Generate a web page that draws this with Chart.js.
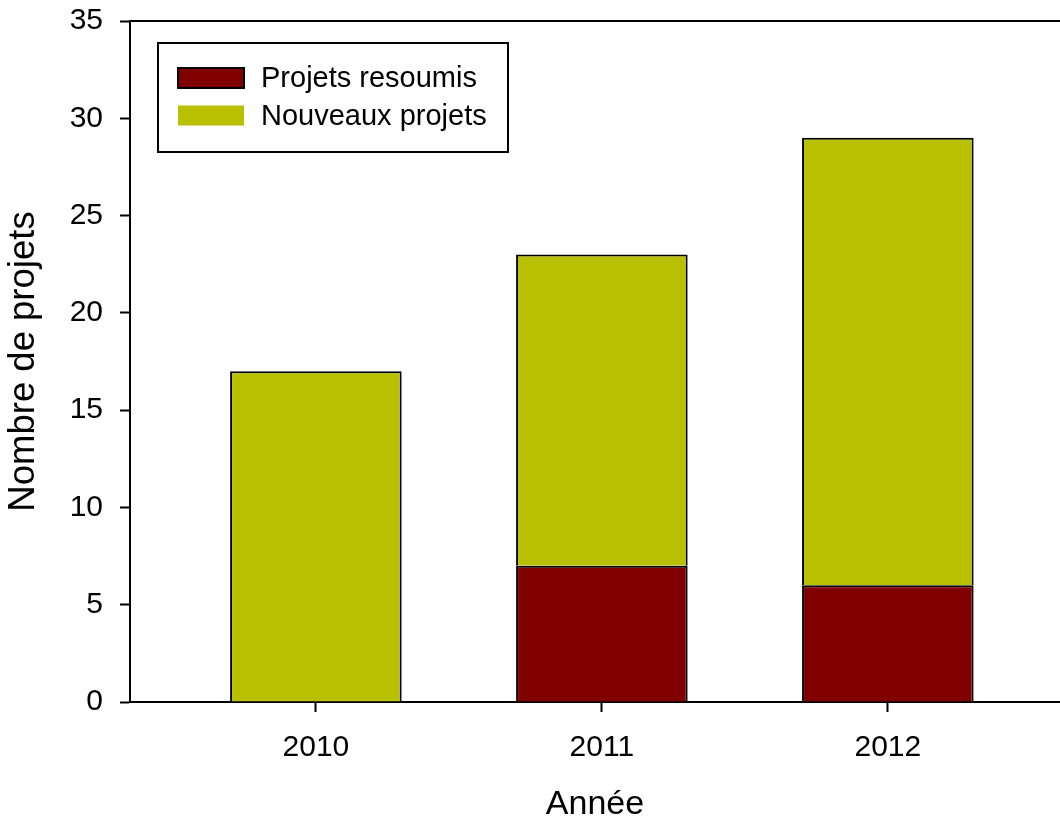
<!DOCTYPE html>
<html>
<head>
<meta charset="utf-8">
<script src="https://cdn.jsdelivr.net/npm/chart.js@4"></script>
<style>
  html, body { margin: 0; padding: 0; background: #ffffff; overflow: hidden; }
  #chartBox { width: 1060px; height: 825px; }
</style>
</head>
<body>
<div id="chartBox"><canvas id="projetsChart" width="1060" height="825"></canvas></div>
<script>
// Data
const years = [2010, 2011, 2012];
const projetsResoumis = [0, 7, 6];
const nouveauxProjets = [17, 16, 23];
const yTicks = [0, 5, 10, 15, 20, 25, 30, 35];
const xRange = [2009.35, 2012.602];

const FONT = '"Liberation Sans", Arial, Helvetica, sans-serif';

// Frame top line + boxed legend inside the plot
const framePlugin = {
    id: 'frameAndLegend',
    afterDatasetsDraw(chart) {
        const ctx = chart.ctx;
        const area = chart.chartArea;
        ctx.save();
        ctx.strokeStyle = '#000000';
        ctx.lineWidth = 2;
        ctx.beginPath();
        ctx.moveTo(area.left - 1, area.top);
        ctx.lineTo(area.right, area.top);
        ctx.stroke();

        // legend box
        const bx = area.left + 28, by = area.top + 22;
        const bw = 350, bh = 109;
        ctx.fillStyle = '#ffffff';
        ctx.fillRect(bx, by, bw, bh);
        ctx.strokeRect(bx, by, bw, bh);

        ctx.font = '29px ' + FONT;
        ctx.textBaseline = 'middle';
        ctx.textAlign = 'left';
        chart.data.datasets.forEach((ds, i) => {
            const sy = by + 25 + i * 37.5;
            ctx.fillStyle = ds.backgroundColor;
            ctx.fillRect(bx + 20, sy, 66, 20);
            if (i === 0) {
                ctx.lineWidth = 2;
                ctx.strokeStyle = '#000000';
                ctx.strokeRect(bx + 20, sy, 66, 20);
            }
            ctx.fillStyle = '#000000';
            ctx.fillText(ds.label, bx + 103, sy + 11);
        });
        ctx.restore();
    }
};

document.addEventListener('DOMContentLoaded', function() {
    const ctx = document.getElementById('projetsChart').getContext('2d');

    new Chart(ctx, {
        type: 'bar',
        data: {
            datasets: [{
                label: 'Projets resoumis',
                data: years.map((y, i) => ({ x: y, y: projetsResoumis[i] })),
                backgroundColor: '#800000',
                borderColor: '#000000',
                borderWidth: 2
            }, {
                label: 'Nouveaux projets',
                data: years.map((y, i) => ({ x: y, y: nouveauxProjets[i] })),
                backgroundColor: '#B9C000',
                borderColor: '#000000',
                borderWidth: 2
            }]
        },
        options: {
            responsive: false,
            animation: false,
            devicePixelRatio: 1,
            categoryPercentage: 1,
            barPercentage: 0.6,
            layout: { padding: { top: 21, left: 0, right: 0, bottom: 0 } },
            plugins: {
                legend: { display: false },
                tooltip: { enabled: false }
            },
            scales: {
                x: {
                    type: 'linear',
                    stacked: true,
                    offset: false,
                    min: xRange[0],
                    max: xRange[1],
                    afterBuildTicks: scale => {
                        scale.ticks = years.map(v => ({ value: v }));
                    },
                    afterFit: scale => {
                        scale.height = 123;
                        scale.paddingLeft = 0;
                        scale.paddingRight = 0;
                    },
                    grid: {
                        offset: false,
                        drawOnChartArea: false,
                        drawTicks: true,
                        tickLength: 10,
                        tickWidth: 2,
                        tickColor: '#000000'
                    },
                    border: { display: true, color: '#000000', width: 2 },
                    ticks: {
                        color: '#000000',
                        padding: 18,
                        maxRotation: 0,
                        font: { family: FONT, size: 30 },
                        callback: v => String(v)
                    },
                    title: {
                        display: true,
                        text: 'Année',
                        color: '#000000',
                        padding: { top: 0, bottom: 0 },
                        font: { family: FONT, size: 34 }
                    }
                },
                y: {
                    stacked: true,
                    min: 0,
                    max: 35,
                    afterBuildTicks: scale => {
                        scale.ticks = yTicks.map(v => ({ value: v }));
                    },
                    afterFit: scale => {
                        scale.width = 130;
                        scale.paddingTop = 0;
                        scale.paddingBottom = 0;
                    },
                    grid: {
                        drawOnChartArea: false,
                        drawTicks: true,
                        tickLength: 10,
                        tickWidth: 2,
                        tickColor: '#000000'
                    },
                    border: { display: true, color: '#000000', width: 2 },
                    ticks: {
                        color: '#000000',
                        padding: 17,
                        font: { family: FONT, size: 30 }
                    },
                    title: {
                        display: true,
                        text: 'Nombre de projets',
                        color: '#000000',
                        padding: { top: 2, bottom: 0 },
                        font: { family: FONT, size: 36.5 }
                    }
                }
            }
        },
        plugins: [framePlugin]
    });
});
</script>
</body>
</html>
